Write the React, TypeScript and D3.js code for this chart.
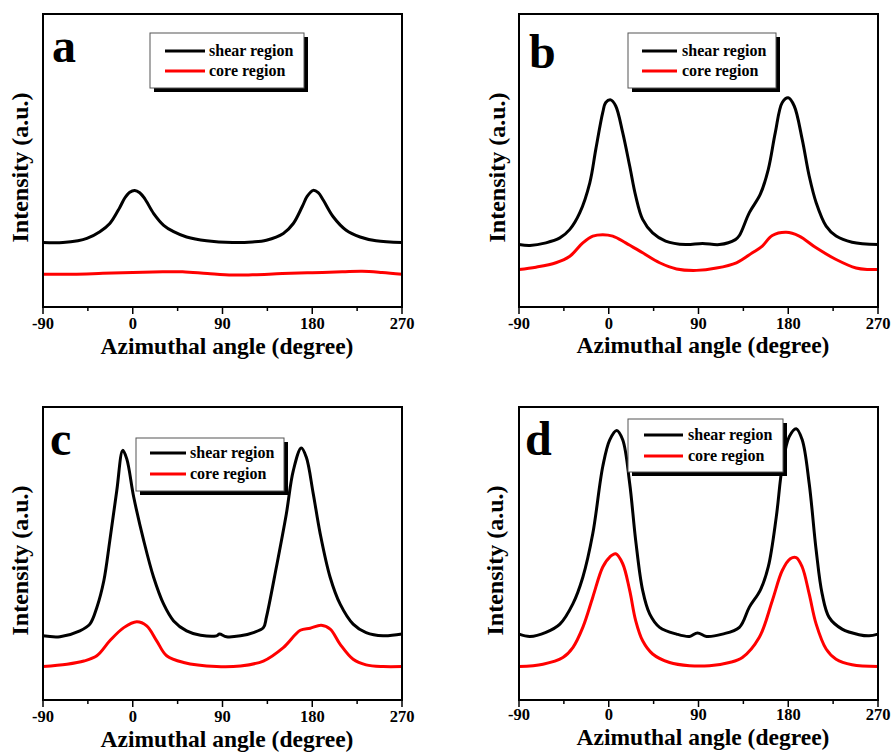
import React from "react";
import * as d3 from "d3";

// x positions in degrees, y in arbitrary intensity (0 = bottom of frame, 100 = top)
const shearA: [number, number][] = [
  [-90, 22.0], [-70, 22.0], [-55, 22.6], [-46, 23.4], [-33, 25.7], [-23, 28.5], [-13, 34.0],
  [-8, 37.2], [-3, 39.2], [2, 39.8], [7, 39.0], [12, 37.0], [21, 31.9], [31, 27.9], [41, 25.7],
  [54, 23.9], [74, 22.6], [100, 22.0], [120, 22.2], [134, 22.8], [151, 25.1], [161, 28.5],
  [170, 34.3], [175, 37.8], [181, 39.8], [186, 39.0], [191, 36.5], [201, 30.8], [214, 26.2],
  [228, 23.9], [244, 22.6], [270, 22.0],
];
const coreA: [number, number][] = [
  [-90, 11.2], [-60, 11.2], [-30, 11.5], [0, 11.8], [30, 12.0], [50, 12.0], [75, 11.4],
  [100, 10.9], [120, 11.0], [150, 11.4], [180, 11.7], [210, 12.0], [230, 12.2], [250, 11.8],
  [270, 11.2],
];

const shearB: [number, number][] = [
  [-90, 21.3], [-79, 21.0], [-63, 21.9], [-49, 23.6], [-39, 26.5], [-29, 32.2], [-19, 42.4],
  [-13, 53.8], [-6, 66.4], [-3, 69.8], [2, 70.7], [7, 68.6], [14, 59.5], [21, 48.1], [27, 37.9],
  [34, 29.9], [44, 25.3], [57, 22.5], [77, 21.3], [94, 21.7], [111, 21.3], [127, 23.0],
  [131, 24.4], [141, 32.2], [152, 38.5], [160, 47.0], [167, 59.5], [174, 69.8], [180, 71.4],
  [186, 68.6], [194, 57.2], [201, 44.7], [208, 35.6], [218, 27.6], [228, 24.2], [244, 22.1],
  [270, 21.3],
];
const coreB: [number, number][] = [
  [-90, 12.8], [-73, 13.6], [-53, 15.1], [-39, 17.3], [-26, 21.9], [-16, 24.2], [-6, 24.7],
  [4, 24.2], [17, 21.9], [34, 18.5], [51, 15.1], [68, 13.0], [88, 12.5], [108, 13.3],
  [128, 15.1], [144, 18.5], [154, 20.8], [164, 24.4], [178, 25.5], [191, 24.2], [208, 20.2],
  [228, 16.2], [248, 13.3], [261, 12.8], [270, 12.8],
];

const shearC: [number, number][] = [
  [-90, 21.9], [-73, 21.6], [-53, 23.6], [-43, 25.9], [-36, 31.6], [-29, 40.7], [-23, 54.4],
  [-16, 71.5], [-10, 85.2], [-6, 82.3], [1, 69.2], [11, 54.4], [21, 41.8], [31, 32.7],
  [41, 27.0], [54, 23.6], [68, 22.1], [84, 21.9], [87, 22.5], [94, 21.6], [108, 21.9],
  [121, 23.0], [131, 24.7], [134, 28.2], [144, 45.3], [154, 63.5], [161, 78.3], [169, 86.0],
  [174, 82.9], [181, 70.4], [188, 56.7], [198, 41.8], [208, 32.7], [221, 25.9], [234, 23.0],
  [251, 21.9], [270, 22.5],
];
const coreC: [number, number][] = [
  [-90, 11.4], [-66, 12.2], [-49, 13.3], [-36, 15.1], [-23, 20.2], [-9, 24.7], [4, 26.7],
  [14, 25.3], [24, 20.2], [34, 15.1], [51, 12.8], [84, 11.4], [108, 11.6], [131, 13.3],
  [151, 17.9], [168, 23.8], [178, 24.5], [189, 25.5], [198, 24.2], [208, 19.0], [221, 13.9],
  [234, 12.0], [251, 11.4], [270, 11.4],
];

const shearD: [number, number][] = [
  [-90, 22.5], [-79, 21.7], [-63, 23.1], [-49, 25.9], [-36, 32.8], [-26, 41.9], [-16, 56.8],
  [-6, 79.7], [1, 88.8], [8, 92.0], [14, 88.8], [21, 73.9], [27, 54.5], [34, 37.4], [41, 29.4],
  [51, 24.8], [68, 22.5], [81, 21.7], [89, 22.9], [98, 21.7], [114, 22.5], [131, 24.8],
  [141, 31.7], [152, 37.5], [160, 45.5], [168, 62.5], [174, 79.7], [181, 89.9], [188, 92.6],
  [194, 88.8], [201, 73.9], [208, 51.1], [214, 36.2], [221, 28.2], [234, 24.2], [251, 22.3],
  [261, 21.9], [270, 22.5],
];
const coreD: [number, number][] = [
  [-90, 11.4], [-66, 12.2], [-46, 14.5], [-36, 17.9], [-26, 24.8], [-16, 35.1], [-6, 45.4],
  [1, 48.8], [7, 49.9], [14, 46.5], [21, 37.4], [27, 27.1], [34, 20.2], [44, 15.7], [61, 12.8],
  [81, 11.7], [101, 11.7], [121, 12.8], [134, 14.5], [151, 21.4], [164, 33.9], [174, 44.2],
  [182, 48.2], [188, 48.6], [194, 45.4], [201, 36.2], [208, 25.9], [218, 17.4], [228, 13.9],
  [244, 12.0], [270, 11.4],
];

const majorTicks = [-90, 0, 90, 180, 270];
const minorTicks = [-45, 45, 135, 225];
const seriesNames = ["shear region", "core region"];
const seriesColors = ["#000000", "#ff0000"];

const FONT = "'Liberation Serif', 'Times New Roman', serif";

const panels = [
  { label: "a", x0: 43, y0: 14, shear: shearA, core: coreA, lg: { dx: 107, dy: 19, w: 154, h: 55, l0: 15, l1: 55, tx: 59, r0: 18, r1: 38 }, labX: 52, labY: 62, tickY: 329, titleY: 354, yTitleX: 28 },
  { label: "b", x0: 519, y0: 14, shear: shearB, core: coreB, lg: { dx: 109, dy: 19, w: 148, h: 55, l0: 14, l1: 49, tx: 54, r0: 18, r1: 38 }, labX: 529, labY: 68, tickY: 329, titleY: 353, yTitleX: 505 },
  { label: "c", x0: 43, y0: 407, shear: shearC, core: coreC, lg: { dx: 93, dy: 31, w: 148, h: 53, l0: 14, l1: 50, tx: 54, r0: 15, r1: 36 }, labX: 50, labY: 455, tickY: 722, titleY: 747, yTitleX: 28 },
  { label: "d", x0: 519, y0: 407, shear: shearD, core: coreD, lg: { dx: 109, dy: 12, w: 155, h: 53, l0: 16, l1: 55, tx: 60, r0: 16, r1: 37 }, labX: 525, labY: 455, tickY: 720, titleY: 745, yTitleX: 503 },
];

const PW = 359;
const PH = 293;

function Panel({ p }: { p: (typeof panels)[number] }) {
  const x = d3.scaleLinear().domain([-90, 270]).range([p.x0, p.x0 + PW]);
  const y = d3.scaleLinear().domain([0, 100]).range([p.y0 + PH, p.y0]);
  const line = d3
    .line<[number, number]>()
    .x((d) => x(d[0]))
    .y((d) => y(d[1]))
    .curve(d3.curveCatmullRom.alpha(0.5));
  const lg = p.lg;
  const bx = p.x0 + lg.dx;
  const by = p.y0 + lg.dy;
  const yb = p.y0 + PH;
  return (
    <g>
      <path d={line(p.core) || ""} fill="none" stroke={seriesColors[1]} strokeWidth={3} />
      <path d={line(p.shear) || ""} fill="none" stroke={seriesColors[0]} strokeWidth={3} />
      <rect x={p.x0} y={p.y0} width={PW} height={PH} fill="none" stroke="#000" strokeWidth={2} />
      {majorTicks.map((t) => (
        <g key={"M" + t}>
          <line x1={x(t)} x2={x(t)} y1={yb} y2={yb + 7} stroke="#000" strokeWidth={1.5} />
          <text x={x(t)} y={p.tickY} textAnchor="middle" fontFamily={FONT} fontWeight="bold" fontSize={16.5}>
            {t}
          </text>
        </g>
      ))}
      {minorTicks.map((t) => (
        <line key={"m" + t} x1={x(t)} x2={x(t)} y1={yb} y2={yb + 4} stroke="#000" strokeWidth={1.5} />
      ))}
      <text x={p.x0 + PW / 2 + 4.5} y={p.titleY} textAnchor="middle" fontFamily={FONT} fontWeight="bold" fontSize={23.5}>
        Azimuthal angle (degree)
      </text>
      <text
        transform={`translate(${p.yTitleX},${p.y0 + PH / 2 + 7}) rotate(-90)`}
        textAnchor="middle"
        fontFamily={FONT}
        fontWeight="bold"
        fontSize={24}
      >
        Intensity (a.u.)
      </text>
      <text x={p.labX} y={p.labY} fontFamily={FONT} fontWeight="bold" fontSize={48}>
        {p.label}
      </text>
      <rect x={bx + 4} y={by + 4} width={lg.w} height={lg.h} fill="#000" />
      <rect x={bx} y={by} width={lg.w} height={lg.h} fill="#fff" stroke="#555" strokeWidth={1} />
      {seriesNames.map((name, i) => {
        const ry = by + (i === 0 ? lg.r0 : lg.r1);
        return (
          <g key={name}>
            <line x1={bx + lg.l0} x2={bx + lg.l1} y1={ry} y2={ry} stroke={seriesColors[i]} strokeWidth={3} />
            <text x={bx + lg.tx} y={ry + 5} fontFamily={FONT} fontWeight="bold" fontSize={16}>
              {name}
            </text>
          </g>
        );
      })}
    </g>
  );
}

export default function App() {
  return (
    <svg
      width={893}
      height={752}
      style={{ position: "absolute", left: 0, top: 0, background: "#fff" }}
    >
      <rect width={893} height={752} fill="#fff" />
      {panels.map((p) => (
        <Panel key={p.label} p={p} />
      ))}
    </svg>
  );
}
